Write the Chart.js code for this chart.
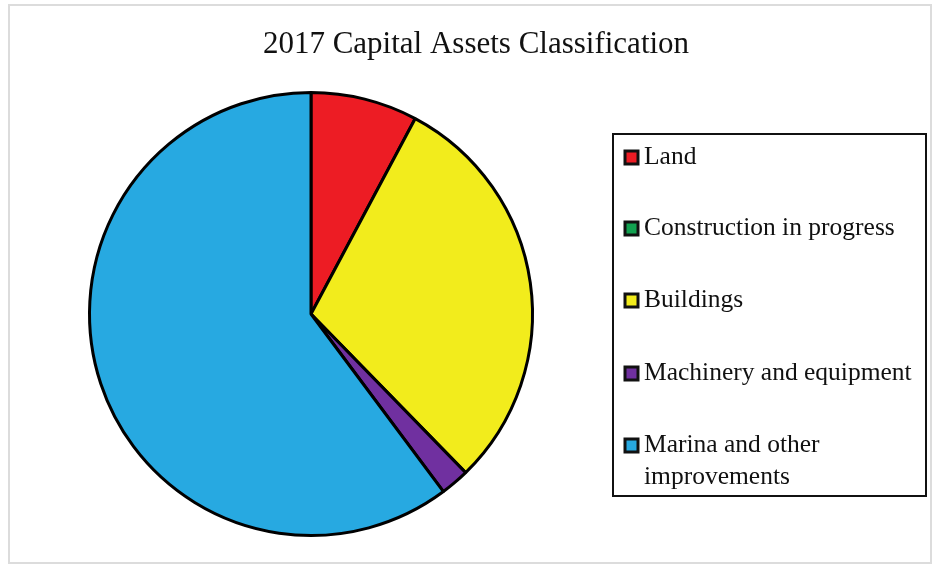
<!DOCTYPE html>
<html>
<head>
<meta charset="utf-8">
<title>2017 Capital Assets Classification</title>
<script src="https://cdn.jsdelivr.net/npm/chart.js@4/dist/chart.umd.min.js"></script>
<style>
    html, body { margin: 0; padding: 0; background: #fff; }
    #wrap { position: relative; width: 932px; height: 566px; }
</style>
</head>
<body>
<div id="wrap"><canvas id="assetsChart" width="932" height="566"></canvas></div>
<script>
// 자산 분류 (percent of total)
const categories = ['Land', 'Construction in progress', 'Buildings', 'Machinery and equipment', 'Marina and other improvements'];
const shares = [7.8, 0, 29.9, 2.1, 60.2];
const sliceColors = ['#ed1c24', '#12a150', '#f2ec1c', '#7030a0', '#27a9e1'];
const chartTitle = '2017 Capital Assets Classification';

const serif = '"Liberation Serif", "Times New Roman", serif';

// 바깥 회색 테두리 + 제목
const framePlugin = {
    id: 'frame',
    beforeDraw(chart) {
        const c = chart.ctx;
        c.save();
        c.fillStyle = '#fff';
        c.fillRect(0, 0, chart.width, chart.height);
        c.strokeStyle = '#dcdcdc';
        c.lineWidth = 2;
        c.strokeRect(9, 5, 922, 558);
        c.fillStyle = '#111';
        c.font = '31px ' + serif;
        c.textAlign = 'center';
        c.textBaseline = 'middle';
        c.fillText(chartTitle, 476, 45);
        c.restore();
    }
};

// 오른쪽 범례 박스 (줄바꿈 지원)
const boxLegendPlugin = {
    id: 'boxLegend',
    afterDraw(chart) {
        const c = chart.ctx;
        const labels = chart.data.labels;
        const colors = chart.data.datasets[0].backgroundColor;
        const rows = [157, 228, 300, 373, 445];
        c.save();
        c.strokeStyle = '#111';
        c.lineWidth = 2;
        c.strokeRect(613, 134, 313, 362);
        c.font = '25.5px ' + serif;
        c.textBaseline = 'middle';
        c.textAlign = 'left';
        labels.forEach((label, i) => {
            const y = rows[i];
            c.fillStyle = colors[i];
            c.fillRect(625, y - 6, 13, 13);
            c.strokeStyle = '#111';
            c.lineWidth = 3;
            c.strokeRect(625, y - 6, 13, 13);
            c.fillStyle = '#111';
            if (label === 'Marina and other improvements') {
                c.fillText('Marina and other', 644, y);
                c.fillText('improvements', 644, y + 32);
            } else {
                c.fillText(label, 644, y);
            }
        });
        c.restore();
    }
};

const ctx = document.getElementById('assetsChart').getContext('2d');
const assetsChart = new Chart(ctx, {
    type: 'pie',
    data: {
        labels: categories,
        datasets: [{
            data: shares,
            backgroundColor: sliceColors,
            borderColor: '#000',
            borderWidth: 3
        }]
    },
    options: {
        responsive: false,
        animation: false,
        layout: {
            padding: { top: 91, left: 88, right: 398, bottom: 29 }
        },
        plugins: {
            legend: { display: false },
            title: { display: false },
            tooltip: { enabled: false }
        }
    },
    plugins: [framePlugin, boxLegendPlugin]
});
</script>
</body>
</html>
